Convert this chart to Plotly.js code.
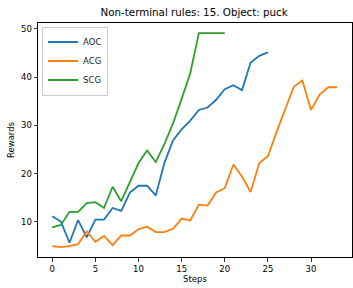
<!DOCTYPE html>
<html>
<head>
<meta charset="utf-8">
<script src="https://cdn.plot.ly/plotly-3.0.1.min.js"></script>
<style>html,body{margin:0;padding:0;background:#fff;}#chart{width:353px;height:288px;}</style>
</head>
<body>
<div id="chart"></div>
<script>
const chartTitle = "Non-terminal rules: 15. Object: puck";
const xLabel = "Steps";
const yLabel = "Rewards";
const seriesNames = ["AOC", "ACG", "SCG"];
const seriesColors = ["#1f77b4", "#ff7f0e", "#2ca02c"];
const aocValues = [11.2, 10.1, 5.7, 10.4, 6.8, 10.5, 10.5, 12.9, 12.3, 16.1, 17.5, 17.5, 15.5, 22.2, 26.9, 29.2, 31.0, 33.2, 33.7, 35.3, 37.5, 38.3, 37.3, 43.0, 44.4, 45.1];
const acgValues = [5.0, 4.8, 5.0, 5.4, 8.1, 5.9, 7.1, 5.2, 7.2, 7.2, 8.5, 9.0, 7.9, 7.9, 8.6, 10.7, 10.3, 13.6, 13.4, 16.1, 17.0, 21.9, 19.4, 16.2, 22.2, 23.6, 28.6, 33.2, 38.0, 39.3, 33.2, 36.4, 37.9, 37.9];
const scgValues = [8.9, 9.4, 12.1, 12.1, 13.9, 14.1, 12.9, 17.3, 14.3, 18.1, 22.2, 24.8, 22.4, 26.1, 30.4, 35.5, 40.8, 49.1, 49.1, 49.1, 49.1];
const xTicks = [0, 5, 10, 15, 20, 25, 30];
const yTicks = [10, 20, 30, 40, 50];

const allValues = [aocValues, acgValues, scgValues];
const traces = allValues.map((vals, i) => ({
  x: vals.map((_, k) => k),
  y: vals,
  type: "scatter",
  mode: "lines",
  name: seriesNames[i],
  line: {color: seriesColors[i], width: 1.8}
}));

const font = {family: "DejaVu Sans, sans-serif", color: "#000"};
const axisCommon = {
  showgrid: false, zeroline: false, showline: true, linecolor: "#000", linewidth: 1,
  mirror: true, ticks: "outside", ticklen: 3.5, tickwidth: 0.8, tickcolor: "#000",
  tickfont: {family: font.family, size: 8.5, color: "#000"}
};
const layout = {
  width: 353, height: 288,
  margin: {l: 38, r: 1, t: 23, b: 31},
  paper_bgcolor: "#fff", plot_bgcolor: "#fff",
  font: font,
  title: {text: chartTitle, font: {family: font.family, size: 10.3, color: "#000"}, x: 0.55, xanchor: "center", y: 0.957, yanchor: "middle"},
  xaxis: Object.assign({}, axisCommon, {range: [-1.65, 34.75], tickvals: xTicks, ticktext: xTicks.map(String),
    title: {text: xLabel, font: {family: font.family, size: 8.5, color: "#000"}, standoff: 3}}),
  yaxis: Object.assign({}, axisCommon, {range: [2.75, 51.2], tickvals: yTicks, ticktext: yTicks.map(String),
    title: {text: yLabel, font: {family: font.family, size: 8.5, color: "#000"}, standoff: 4}}),
  showlegend: true,
  legend: {x: 0.013, y: 0.985, xanchor: "left", yanchor: "top", bgcolor: "rgba(255,255,255,0.8)",
    bordercolor: "#ccc", borderwidth: 1, font: {family: font.family, size: 8.5, color: "#222"},
    itemwidth: 30, tracegroupgap: 0}
};
Plotly.newPlot("chart", traces, layout, {displayModeBar: false, staticPlot: true});
</script>
</body>
</html>
